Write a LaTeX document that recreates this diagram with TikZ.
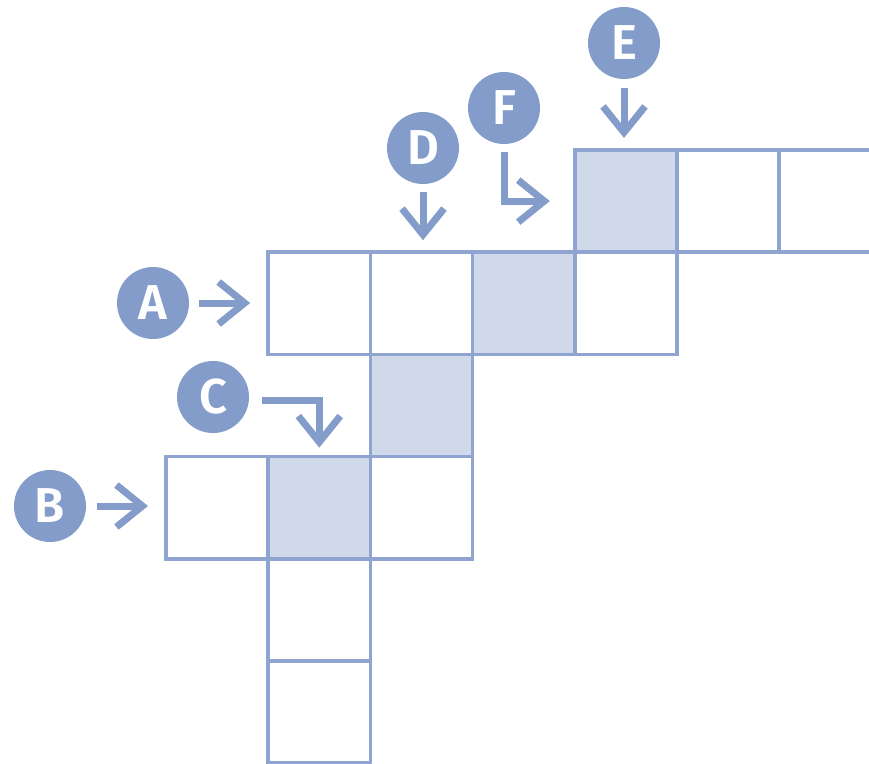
\documentclass[tikz,border=0pt]{standalone}
\usepackage{fontspec}
\newfontfamily\labfont{Fira Sans SemiBold}
\usetikzlibrary{arrows.meta}
\definecolor{gridline}{HTML}{8FA4D1}
\definecolor{cellfill}{HTML}{D0D9EA}
\definecolor{badgecol}{HTML}{849CC9}
\begin{document}
\begin{tikzpicture}[x=1pt,y=-1pt,
  cell/.style={draw=gridline, line width=3.5pt, minimum size=102.2pt, inner sep=0pt, outer sep=0pt},
  shadecell/.style={cell, fill=cellfill},
  badge/.style={circle, fill=badgecol, minimum size=72pt, inner sep=0pt, outer sep=0pt, text=white,
    font=\labfont\fontsize{49}{49}\selectfont},
  arr/.style={draw=badgecol, line width=7pt, line join=miter,
    -{Straight Barb[sharp,length=26pt,width=42pt]}}]
\useasboundingbox (0,0) rectangle (869,763);
\clip (0,0) rectangle (869,763);
% grid cells
\node[shadecell] (r1c5) at (625.9,201.1) {};
\node[cell] (r1c6) at (728.1,201.1) {};
\node[cell] (r1c7) at (830.3,201.1) {};
\node[cell] (r2c2) at (319.3,303.3) {};
\node[cell] (r2c3) at (421.5,303.3) {};
\node[shadecell] (r2c4) at (523.7,303.3) {};
\node[cell] (r2c5) at (625.9,303.3) {};
\node[shadecell] (r3c3) at (421.5,405.5) {};
\node[cell] (r4c1) at (217.1,507.7) {};
\node[shadecell] (r4c2) at (319.3,507.7) {};
\node[cell] (r4c3) at (421.5,507.7) {};
\node[cell] (r5c2) at (319.3,609.9) {};
\node[cell] (r6c2) at (319.3,712.1) {};
% badges
\node[badge] (A) at (153,303) {A};
\node[badge] (B) at (50,506) {B};
\node[badge] (C) at (213,397) {C};
\node[badge] (D) at (423,148) {D};
\node[badge] (E) at (624,43) {E};
\node[badge] (F) at (504,108) {F};
% arrows
\draw[arr, shorten <=10pt, shorten >=18pt] (A) -- (A -| r2c2.west);
\draw[arr, shorten <=11pt, shorten >=18pt] (B) -- (B -| r4c1.west);
\draw[arr, shorten >=9pt] ([shift={(13,3)}]C.east) -| (r4c2.north);
\draw[arr, shorten <=8pt, shorten >=12pt] (D) -- (D |- r2c3.north);
\draw[arr, shorten <=9pt, shorten >=12pt] (E) -- (E |- r1c5.north);
\draw[arr, shorten <=8pt, shorten >=25pt] (F) |- (r1c5.west);
\end{tikzpicture}
\end{document}
